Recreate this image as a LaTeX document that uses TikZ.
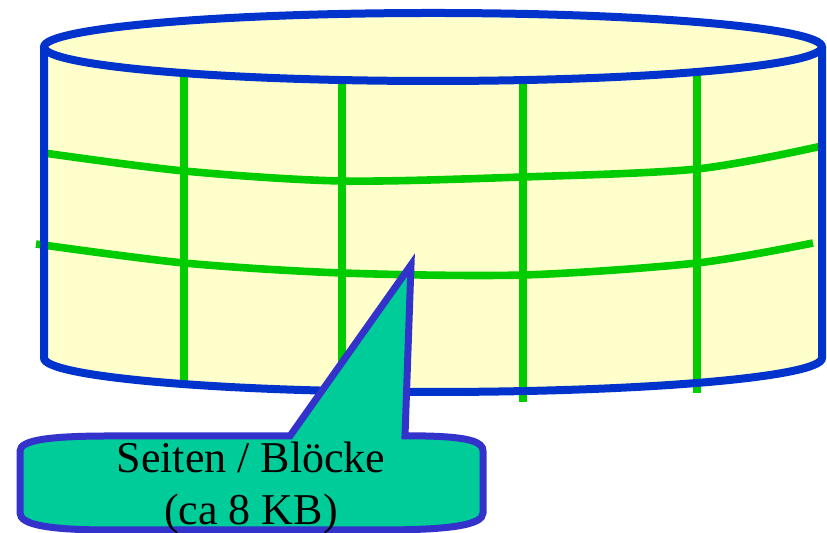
\documentclass[tikz,border=0pt]{standalone}
\usepackage{fontspec}
\setmainfont{Liberation Serif}
\definecolor{diskblue}{RGB}{0,51,204}
\definecolor{diskfill}{RGB}{255,255,204}
\definecolor{gridgreen}{RGB}{0,204,0}
\definecolor{calloutfill}{RGB}{0,204,153}
\definecolor{calloutblue}{RGB}{51,51,204}
\begin{document}
\begin{tikzpicture}[x=0.5pt,y=0.5pt]
        \useasboundingbox (0,0) rectangle (827,533);
        \fill[diskfill] (44,486) -- (44,175) arc[start angle=180,end angle=360,x radius=389,y radius=34] -- (822,486) -- cycle;

        \foreach \x/\b in {184/148,342/141,523/131,697/140} {
            \draw[line width=3.8pt,gridgreen] (\x,470) -- (\x,\b);
        }
        \draw[line width=3.8pt,gridgreen] plot[smooth] coordinates {(44,380) (184,362) (342,352) (523,356) (697,364) (822,387)};
        \draw[line width=3.8pt,gridgreen] plot[smooth] coordinates {(36,289) (184,270) (342,260) (523,258) (697,270) (813,290)};

        \draw[line width=4pt,diskblue,fill=diskfill] (433,486) ellipse[x radius=389,y radius=34];
        \draw[line width=4pt,diskblue] (44,486) -- (44,175) arc[start angle=180,end angle=360,x radius=389,y radius=34] -- (822,486);

        \draw[line width=3.5pt,calloutblue,fill=calloutfill] (20,20) -- (20,82) .. controls (20,93) and (50,97) .. (110,97) -- (290,97) -- (411,268) -- (405,97) -- (425,97) .. controls (470,96) and (483,91) .. (483,82) -- (483,20) .. controls (483,8) and (450,3) .. (380,3) -- (110,3) .. controls (50,3) and (20,8) .. (20,20) -- cycle;
        \node[anchor=base,font=\fontsize{22}{26}\selectfont] (pages) at (251,60) {Seiten / Blöcke};
        \node[anchor=base,font=\fontsize{22}{26}\selectfont] (size) at (251,8) {(ca 8 KB)};
\end{tikzpicture}
\end{document}
